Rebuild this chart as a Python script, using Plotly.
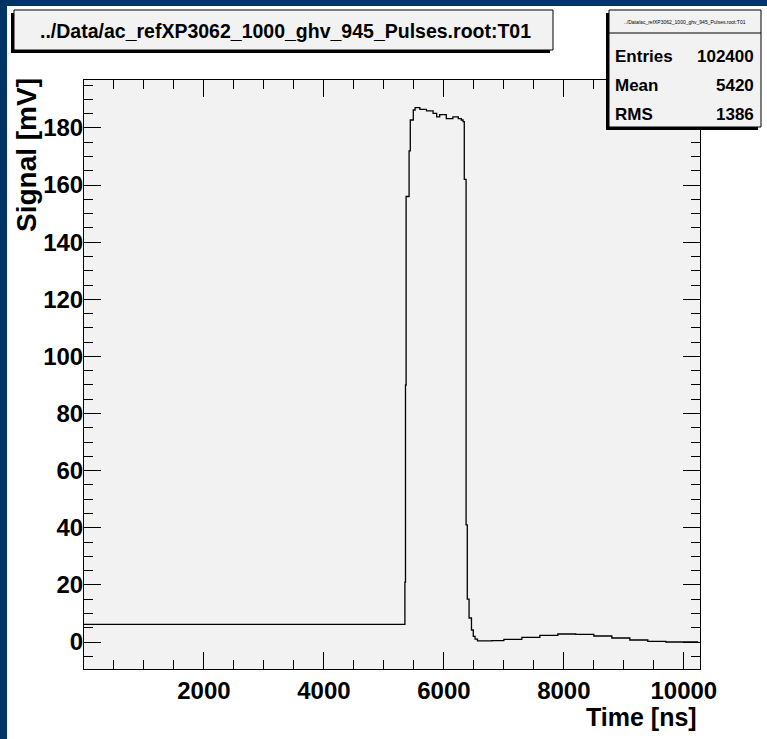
import plotly.graph_objects as go

# waveform (time in ns, signal in mV), drawn as histogram steps
time_ns = [0, 5350, 5360, 5370, 5420, 5440, 5490, 5520, 5600, 5710, 5820, 5880, 5930,
           6040, 6150, 6240, 6290, 6320, 6340, 6370, 6390, 6420, 6460, 6490, 6520, 6560,
           6800, 7000, 7300, 7600, 7900, 8200, 8500, 8800, 9100, 9400, 9700, 10240]
signal_mv = [6.2, 21, 90, 156, 172, 182.8, 186.3, 187.1, 186.5, 186.0, 185.1, 183.9, 184.7,
             183.3, 183.9, 183.3, 182.8, 182.2, 162, 41, 15, 8.4, 4.2, 2.0, 1.0, 0.4,
             0.5, 0.9, 1.6, 2.3, 2.8, 2.7, 2.1, 1.4, 0.7, 0.2, 0.0, 0.0]

title_txt = "../Data/ac_refXP3062_1000_ghv_945_Pulses.root:T01"
stat_names = ["Entries", "Mean", "RMS"]
stat_values = ["102400", "5420", "1386"]

x_tickvals = [0, 2000, 4000, 6000, 8000, 10000]
x_ticktext = ["", "2000", "4000", "6000", "8000", "10000"]
x_range = [0, 10270]
y_range = [-9.45, 196.8]

W, H = 767, 739
L, R, T, B = 84, 700, 80, 669
NAVY = "#003366"
BOXGRAY = "#f2f2f2"
FONT = "Liberation Sans"


def px(x):
    return (x - L) / (R - L)


def py(y):
    return (B - y) / (B - T)


fig = go.Figure()
fig.add_trace(go.Scatter(x=time_ns, y=signal_mv, mode="lines",
                         line=dict(color="black", width=1.3, shape="hv"),
                         hoverinfo="skip", showlegend=False))

shapes = []
# navy canvas border (top and left)
shapes.append(dict(type="rect", xref="paper", yref="paper", x0=px(0), x1=px(W), y0=py(0), y1=py(6),
                   fillcolor=NAVY, line=dict(width=0), layer="above"))
shapes.append(dict(type="rect", xref="paper", yref="paper", x0=px(0), x1=px(7), y0=py(0), y1=py(H),
                   fillcolor=NAVY, line=dict(width=0), layer="above"))


def box(x0, y0, x1, y1):
    # shadow to the lower-left, then the box itself
    shapes.append(dict(type="rect", xref="paper", yref="paper", x0=px(x0 - 3), x1=px(x1 - 3),
                       y0=py(y0 + 3), y1=py(y1 + 3), fillcolor="black", line=dict(width=0), layer="above"))
    shapes.append(dict(type="rect", xref="paper", yref="paper", x0=px(x0), x1=px(x1),
                       y0=py(y0), y1=py(y1), fillcolor=BOXGRAY, line=dict(color="black", width=1),
                       layer="above"))


box(14, 10, 553, 50)
box(609, 10, 761, 127)
shapes.append(dict(type="line", xref="paper", yref="paper", x0=px(609), x1=px(761), y0=py(33), y1=py(33),
                   line=dict(color="black", width=1), layer="above"))

ann = []
ann.append(dict(text=title_txt, x=px(285), y=py(31), xref="paper", yref="paper", showarrow=False,
                xanchor="center", yanchor="middle",
                font=dict(family=FONT, size=19.5, color="black", weight="bold")))
ann.append(dict(text=title_txt, x=px(685), y=py(22), xref="paper", yref="paper", showarrow=False,
                xanchor="center", yanchor="middle", font=dict(family=FONT, size=5, color="black")))
row_y = [56, 86, 114]
for name, val, yy in zip(stat_names, stat_values, row_y):
    ann.append(dict(text=name, x=px(613), y=py(yy), xref="paper", yref="paper", showarrow=False,
                    xanchor="left", yanchor="middle",
                    font=dict(family=FONT, size=17, color="black", weight="bold")))
    ann.append(dict(text=val, x=px(756), y=py(yy), xref="paper", yref="paper", showarrow=False,
                    xanchor="right", yanchor="middle",
                    font=dict(family=FONT, size=17, color="black", weight="bold")))
ann.append(dict(text="Time [ns]", x=px(699), y=py(717), xref="paper", yref="paper", showarrow=False,
                xanchor="right", yanchor="middle",
                font=dict(family=FONT, size=25, color="black", weight="bold")))
ann.append(dict(text="Signal [mV]", x=px(27), y=py(76), xref="paper", yref="paper", showarrow=False,
                xanchor="center", yanchor="top", textangle=-90,
                font=dict(family=FONT, size=28, color="black", weight="bold")))

tickfont = dict(family=FONT, size=24, color="black", weight="bold")
fig.update_layout(
    width=W, height=H,
    margin=dict(l=L, r=W - R, t=T, b=H - B),
    paper_bgcolor="white",
    plot_bgcolor="#f2f2f2",
    shapes=shapes,
    annotations=ann,
    showlegend=False,
    xaxis=dict(range=x_range, tickmode="array", tickvals=x_tickvals, ticktext=x_ticktext,
               ticks="inside", ticklen=17, tickwidth=1,
               tickcolor="black", showgrid=False, zeroline=False, showline=True, linecolor="black",
               linewidth=1, mirror="ticks", tickfont=tickfont, ticklabelstandoff=0,
               minor=dict(tickmode="linear", tick0=0, dtick=500, ticks="inside", ticklen=9,
                          tickcolor="black", showgrid=False)),
    yaxis=dict(range=y_range, tick0=0, dtick=20, ticks="inside", ticklen=17, tickwidth=1,
               tickcolor="black", showgrid=False, zeroline=False, showline=True, linecolor="black",
               linewidth=1, mirror="ticks", tickfont=tickfont, ticklabelstandoff=-5,
               minor=dict(dtick=5, ticks="inside", ticklen=9, tickcolor="black", showgrid=False)),
)

fig.write_html("out.html", config={"displayModeBar": False},
               post_script="document.body.style.margin='0';document.body.style.overflow='hidden';")
